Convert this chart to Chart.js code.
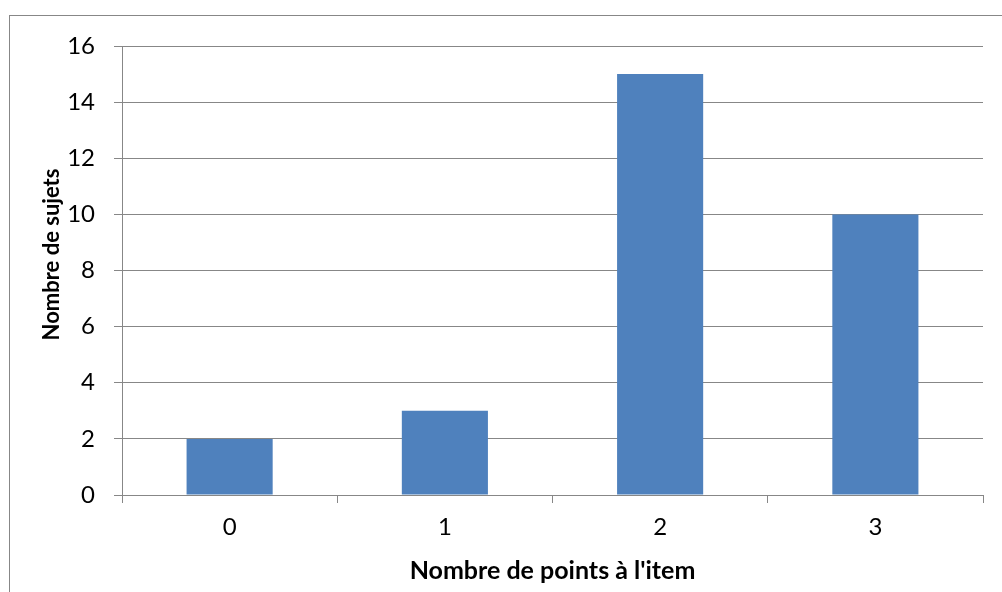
<!DOCTYPE html>
<html>
<head>
<meta charset="utf-8">
<script src="https://cdn.jsdelivr.net/npm/chart.js@4/dist/chart.umd.min.js"></script>
<style>
  html, body { margin: 0; padding: 0; background: #fff; overflow: hidden; }
  #wrap { position: relative; width: 1002px; height: 592px; }
  #frame { position: absolute; left: 9px; top: 15px; width: 1200px; height: 800px; border: 1px solid #878787; }
  canvas { position: absolute; left: 0; top: 0; }
</style>
</head>
<body>
<div id="wrap">
  <div id="frame"></div>
  <canvas id="c" width="1002" height="592"></canvas>
</div>
<script>
// Points obtained on the item and how many subjects got each score
const categories = ['0', '1', '2', '3'];
const subjects = [2, 3, 15, 10];
const yTicks = [0, 2, 4, 6, 8, 10, 12, 14, 16];
const xTitle = "Nombre de points à l'item";
const yTitle = 'Nombre de sujets';

const FONT = 'Lato, "Open Sans", sans-serif';
const GRID = '#878787';

// vertical axis title, drawn a little above the plot centre
const yTitlePlugin = {
  id: 'yTitle',
  afterDraw(chart) {
    const { ctx, chartArea } = chart;
    ctx.save();
    ctx.translate(52, (chartArea.top + chartArea.bottom) / 2 - 16);
    ctx.rotate(-Math.PI / 2);
    ctx.font = 'bold 22px ' + FONT;
    ctx.fillStyle = '#000';
    ctx.textAlign = 'center';
    ctx.textBaseline = 'middle';
    ctx.fillText(yTitle, 0, 0);
    ctx.restore();
  }
};

new Chart(document.getElementById('c'), {
  type: 'bar',
  data: {
    labels: categories,
    datasets: [{
      data: subjects,
      backgroundColor: '#4F81BD',
      borderWidth: 0,
      barPercentage: 0.4,
      categoryPercentage: 1
    }]
  },
  options: {
    responsive: false,
    animation: false,
    devicePixelRatio: 1,
    layout: { padding: { left: 0, top: 46, right: 19, bottom: 0 } },
    plugins: { legend: { display: false }, tooltip: { enabled: false } },
    scales: {
      x: {
        afterFit(s) { s.height = 97; },
        grid: { drawOnChartArea: false, drawTicks: true, tickLength: 8, color: GRID, offset: true },
        border: { color: GRID },
        ticks: { color: '#000', font: { family: FONT, size: 24 }, padding: 10 },
        title: { display: true, text: xTitle, color: '#000', font: { family: FONT, size: 25, weight: 'bold' }, padding: { top: 0, bottom: 6 } }
      },
      y: {
        min: 0,
        max: 16,
        afterFit(s) { s.width = 122; },
        afterBuildTicks(s) { s.ticks = yTicks.map(v => ({ value: v })); },
        grid: { color: GRID, drawTicks: true, tickLength: 8 },
        border: { color: GRID },
        ticks: { color: '#000', font: { family: FONT, size: 24 }, padding: 19 }
      }
    }
  },
  plugins: [yTitlePlugin]
});
</script>
</body>
</html>
